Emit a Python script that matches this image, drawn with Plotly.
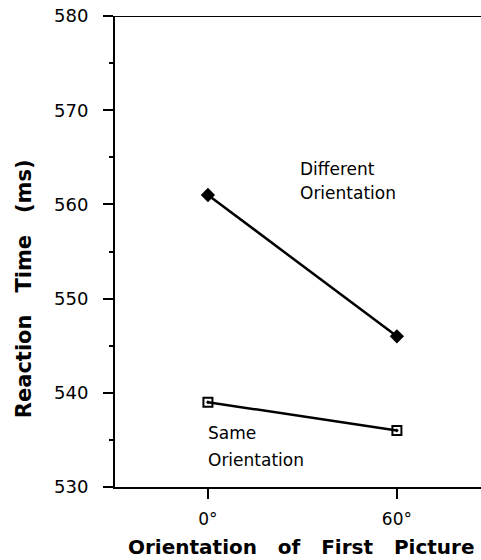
import plotly.graph_objects as go

orientations = [0, 60]
x_tick_labels = ["0°", "60°"]
different_rt = [561, 546]
same_rt = [539, 536]
y_tick_vals = [530, 540, 550, 560, 570, 580]

fig = go.Figure()
fig.add_trace(go.Scatter(
    x=orientations, y=different_rt, mode="lines+markers",
    line=dict(color="black", width=2.5),
    marker=dict(symbol="diamond", size=11, color="black"),
    showlegend=False))
fig.add_trace(go.Scatter(
    x=orientations, y=same_rt, mode="lines+markers",
    line=dict(color="black", width=2.5),
    marker=dict(symbol="square-open-dot", size=9, color="black", line=dict(width=2)),
    showlegend=False))

font_main = "DejaVu Sans"
fig.update_layout(
    width=481, height=560,
    margin=dict(l=115, r=0, t=16, b=73),
    paper_bgcolor="white", plot_bgcolor="white",
    xaxis=dict(range=[-29.5, 86.7], tickvals=orientations, ticktext=x_tick_labels,
               showline=True, linecolor="black", linewidth=2,
               ticks="outside", ticklen=10, tickwidth=2, tickcolor="black",
               showgrid=False, zeroline=False, ticklabelstandoff=6,
               tickfont=dict(family=font_main, size=17, color="black")),
    yaxis=dict(range=[530, 580], tickvals=y_tick_vals,
               showline=True, linecolor="black", linewidth=2,
               ticks="outside", ticklen=10, tickwidth=2, tickcolor="black",
               minor=dict(dtick=5, ticks="outside", ticklen=4, tickwidth=2, tickcolor="black"),
               showgrid=False, zeroline=False, ticklabelstandoff=11,
               tickfont=dict(family=font_main, size=18, color="black")),
)
fig.add_shape(type="line", xref="paper", yref="y", x0=0, x1=1, y0=580, y1=580,
              line=dict(color="black", width=2))

fig.add_annotation(text="<b>Orientation\u00a0\u00a0 of\u00a0\u00a0 First\u00a0\u00a0 Picture</b>",
                   xref="paper", yref="paper", borderpad=0,
                   x=0.51, y=0, yshift=-60, showarrow=False, xanchor="center", yanchor="middle",
                   font=dict(family=font_main, size=20, color="black"))
fig.add_annotation(text="<b>Reaction\u00a0\u00a0 Time\u00a0\u00a0 (ms)</b>", xref="paper", yref="paper",
                   x=0, xshift=-91, y=0.42, textangle=-90, showarrow=False,
                   xanchor="center", yanchor="middle",
                   font=dict(family=font_main, size=21, color="black"))

labels = [("Different", 28.6, 563.8), ("Orientation", 28.6, 561.2),
          ("Same", -0.6, 535.7), ("Orientation", -0.6, 532.9)]
for t, x, y in labels:
    fig.add_annotation(text=t, x=x, y=y, showarrow=False, xanchor="left", yanchor="middle",
                       font=dict(family=font_main, size=17, color="black"))

fig.write_html("out.html", config={"displayModeBar": False},
               post_script="document.body.style.margin='0';document.body.style.overflow='hidden';")
